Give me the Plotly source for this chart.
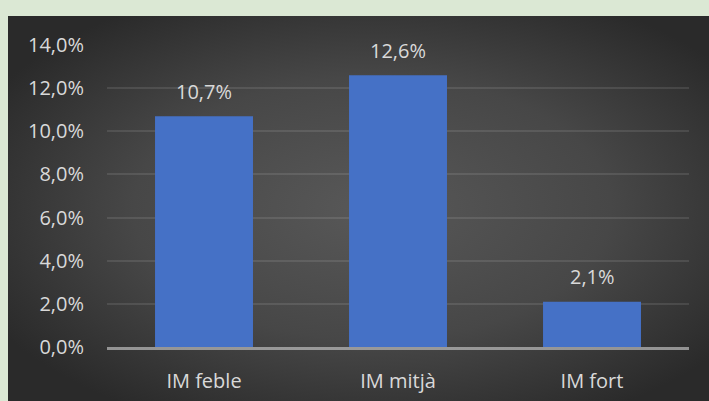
import base64
import plotly.graph_objects as go

categories = ["IM feble", "IM mitjà", "IM fort"]
values = [10.7, 12.6, 2.1]
value_labels = ["10,7%", "12,6%", "2,1%"]
tick_vals = [0, 2, 4, 6, 8, 10, 12, 14]
tick_text = ["0,0%", "2,0%", "4,0%", "6,0%", "8,0%", "10,0%", "12,0%", "14,0%"]

W, H = 709, 401
ML, MR, MT, MB = 107, 20, 45, 54
PW, PH = W - ML - MR, H - MT - MB

svg = (
    '<svg xmlns="http://www.w3.org/2000/svg" width="701" height="385" preserveAspectRatio="none">'
    '<defs><radialGradient id="g" cx="52%" cy="50%" r="62%">'
    '<stop offset="0%" stop-color="#585858"/>'
    '<stop offset="55%" stop-color="#474747"/>'
    '<stop offset="100%" stop-color="#2a2a2a"/>'
    '</radialGradient></defs>'
    '<rect width="701" height="385" fill="url(#g)"/></svg>'
)
src = "data:image/svg+xml;base64," + base64.b64encode(svg.encode()).decode()

def px_to_paper_x(px):
    return (px - ML) / PW

def py_to_paper_y(py):
    return (H - MB - py) / PH

fig = go.Figure()
fig.add_trace(go.Bar(
    x=categories, y=values, width=0.505,
    marker=dict(color="#4571c6", line=dict(width=0)),
    hoverinfo="skip",
))

for c, v, t in zip(categories, values, value_labels):
    fig.add_annotation(x=c, y=v, text=t, showarrow=False, yanchor="middle",
                       yshift=25, font=dict(family="Open Sans", size=20, color="#d9d9d9"))

fig.add_layout_image(dict(
    source=src, xref="paper", yref="paper",
    x=px_to_paper_x(8), y=py_to_paper_y(16),
    sizex=(W - 8) / PW, sizey=(H - 16) / PH,
    xanchor="left", yanchor="top", sizing="stretch", layer="below",
))

fig.update_layout(
    width=W, height=H,
    margin=dict(l=ML, r=MR, t=MT, b=MB, pad=0),
    paper_bgcolor="#dbe8d4",
    plot_bgcolor="rgba(0,0,0,0)",
    showlegend=False,
    bargap=0.495,
    hovermode=False,
    font=dict(family="Open Sans", size=20, color="#d9d9d9"),
    xaxis=dict(
        showgrid=False, zeroline=False, showline=True, automargin=False,
        linecolor="rgba(190,190,190,0.7)", linewidth=3, layer="above traces",
        ticks="", ticklabelstandoff=14,
        tickfont=dict(family="Open Sans", size=20, color="#d9d9d9"),
    ),
    yaxis=dict(
        range=[0, 14], tickvals=tick_vals, ticktext=tick_text, automargin=False,
        showgrid=True, gridcolor="rgba(255,255,255,0.1)", gridwidth=2,
        zeroline=False, showline=False, ticks="", ticklabelstandoff=22,
        tickfont=dict(family="Open Sans", size=20, color="#d9d9d9"),
    ),
)

fig.write_html(
    "out.html",
    config={"displayModeBar": False, "staticPlot": True},
    post_script=(
        "document.documentElement.style.margin='0';"
        "document.documentElement.style.overflow='hidden';"
        "document.body.style.margin='0';"
        "document.body.style.overflow='hidden';"
        "document.body.style.background='#dbe8d4';"
    ),
)
